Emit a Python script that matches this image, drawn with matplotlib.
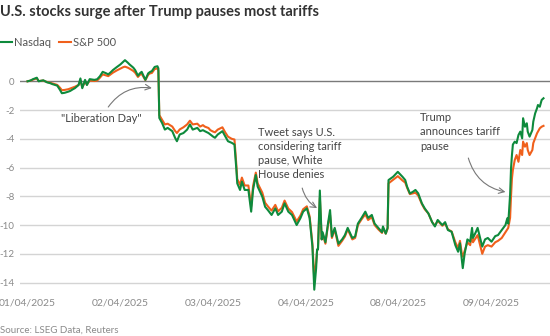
import matplotlib
matplotlib.use("Agg")
import matplotlib.pyplot as plt

# Intraday position, in trading sessions since the open of 01/04/2025
session = [
    0.00, 0.03, 0.06, 0.10, 0.12, 0.17, 0.21, 0.24, 0.27, 0.32,
    0.35, 0.37, 0.40, 0.44, 0.46, 0.49, 0.51, 0.55, 0.57, 0.59,
    0.62, 0.64, 0.67, 0.72, 0.75, 0.78, 0.81, 0.85, 0.87, 0.90,
    0.92, 0.96, 1.00, 1.03, 1.05, 1.08, 1.10, 1.14, 1.16, 1.19,
    1.21, 1.23, 1.27, 1.30, 1.32, 1.34, 1.37, 1.40, 1.41, 1.42,
    1.45, 1.48, 1.51, 1.56, 1.59, 1.61, 1.64, 1.68, 1.72, 1.75,
    1.78, 1.83, 1.86, 1.89, 1.91, 1.95, 1.97, 2.00, 2.02, 2.05,
    2.10, 2.13, 2.16, 2.20, 2.23, 2.25, 2.26, 2.29, 2.31, 2.34,
    2.38, 2.41, 2.43, 2.46, 2.48, 2.53, 2.56, 2.59, 2.63, 2.67,
    2.70, 2.74, 2.77, 2.81, 2.85, 2.90, 2.94, 2.97, 3.01, 3.04,
    3.07, 3.09, 3.11, 3.12, 3.13, 3.15, 3.17, 3.18, 3.21, 3.24,
    3.26, 3.28, 3.31, 3.35, 3.39, 3.42, 3.45, 3.50, 3.53, 3.56,
    3.60, 3.64, 3.67, 3.71, 3.74, 3.78, 3.82, 3.83, 3.86, 3.88,
    3.89, 3.94, 3.99, 4.04, 4.07, 4.09, 4.12, 4.15, 4.18, 4.21,
    4.25, 4.28, 4.32, 4.36, 4.39, 4.42, 4.47, 4.50, 4.53, 4.57,
    4.61, 4.64, 4.66, 4.68, 4.69, 4.71, 4.74, 4.77, 4.79, 4.80,
    4.83, 4.85, 4.90, 4.93, 4.96, 5.00, 5.04, 5.07, 5.11, 5.15,
    5.17, 5.18, 5.20, 5.21, 5.22, 5.23, 5.25, 5.27, 5.29, 5.31,
    5.33, 5.34, 5.36, 5.38, 5.39, 5.41, 5.44, 5.45, 5.47, 5.49,
    5.50, 5.52, 5.54, 5.56,
]

# Percentage change since 01/04/2025
nasdaq = [
    0.00, 0.05, 0.15, 0.25, 0.00, 0.07, -0.07, -0.12, -0.20, -0.30,
    -0.60, -0.83, -0.80, -0.72, -0.67, -0.55, -0.48, -0.26, 0.20, -0.48,
    0.10, -0.26, 0.15, 0.10, 0.14, 0.35, 0.66, 0.55, 0.48, 0.65,
    0.78, 0.98, 1.17, 1.35, 1.47, 1.30, 1.17, 0.95, 0.78, 0.39,
    0.55, 0.66, 0.10, 0.55, 0.65, 0.71, 1.00, 1.05, 0.90, -2.55,
    -2.90, -3.36, -3.24, -3.47, -3.93, -4.17, -3.70, -3.60, -3.36, -3.00,
    -3.36, -3.24, -3.47, -3.40, -3.47, -3.60, -3.70, -3.85, -3.93, -3.70,
    -3.47, -3.82, -4.17, -4.28, -4.40, -6.10, -7.10, -7.56, -6.98, -7.56,
    -7.56, -9.07, -7.56, -6.52, -7.33, -8.03, -8.73, -8.96, -9.30, -8.84,
    -9.30, -9.07, -8.49, -9.07, -9.30, -10.00, -9.53, -9.07, -8.84, -9.53,
    -11.50, -14.50, -13.00, -11.70, -11.70, -7.60, -11.00, -10.50, -11.20, -9.80,
    -8.96, -10.80, -10.20, -11.30, -11.00, -10.70, -10.20, -10.90, -10.80, -9.90,
    -9.50, -9.07, -9.50, -9.30, -9.90, -10.20, -10.50, -10.10, -10.60, -10.20,
    -6.87, -6.64, -6.30, -6.64, -6.87, -7.33, -7.80, -7.70, -7.56, -7.80,
    -8.50, -8.84, -9.20, -9.80, -10.10, -9.65, -10.00, -9.80, -10.35, -10.47,
    -11.40, -11.86, -11.27, -12.40, -13.00, -12.00, -11.00, -11.16, -10.20, -10.90,
    -10.50, -10.20, -11.50, -11.00, -10.90, -11.16, -10.77, -10.70, -10.35, -10.00,
    -9.53, -9.90, -7.90, -6.06, -5.13, -4.40, -4.20, -4.30, -3.74, -3.50,
    -3.97, -2.57, -3.16, -2.92, -3.50, -3.85, -3.39, -2.80, -2.23, -1.88,
    -1.65, -1.77, -1.30, -1.18,
]

sp500 = [
    0.00, 0.04, 0.12, 0.20, 0.02, 0.05, -0.05, -0.10, -0.15, -0.25,
    -0.45, -0.62, -0.60, -0.55, -0.50, -0.42, -0.38, -0.25, 0.05, -0.40,
    -0.05, -0.22, 0.05, 0.02, 0.05, 0.25, 0.48, 0.40, 0.36, 0.50,
    0.60, 0.75, 0.88, 0.98, 1.02, 0.95, 0.88, 0.72, 0.60, 0.30,
    0.45, 0.52, 0.08, 0.45, 0.55, 0.58, 0.85, 0.90, 0.75, -2.35,
    -2.67, -3.00, -2.95, -3.15, -3.45, -3.60, -3.35, -3.20, -3.00, -2.74,
    -3.00, -2.95, -3.15, -3.05, -3.15, -3.25, -3.40, -3.50, -3.55, -3.36,
    -3.20, -3.55, -3.85, -4.00, -4.05, -5.80, -6.80, -7.20, -6.70, -7.25,
    -7.25, -8.70, -7.30, -6.35, -7.10, -7.75, -8.45, -8.70, -9.00, -8.60,
    -9.05, -8.80, -8.30, -8.85, -9.10, -9.75, -9.35, -8.90, -8.70, -9.40,
    -11.30, -13.80, -12.60, -11.80, -11.60, -8.10, -11.00, -10.60, -11.30, -9.90,
    -9.30, -10.90, -10.30, -11.45, -11.10, -10.80, -10.30, -11.00, -10.90, -10.00,
    -9.60, -9.25, -9.65, -9.45, -10.00, -10.30, -10.55, -10.20, -10.60, -10.25,
    -7.10, -6.85, -6.60, -6.90, -7.05, -7.40, -7.85, -7.80, -7.75, -7.95,
    -8.55, -8.90, -9.20, -9.80, -10.05, -9.70, -10.05, -9.90, -10.30, -10.45,
    -11.20, -11.60, -11.10, -12.00, -12.20, -11.80, -11.20, -11.40, -10.60, -11.20,
    -10.90, -10.70, -12.00, -11.50, -11.40, -11.50, -11.20, -11.10, -10.90, -10.50,
    -10.30, -10.20, -9.50, -8.00, -6.75, -6.17, -5.48, -5.13, -5.60, -4.78,
    -5.13, -4.20, -4.55, -4.30, -4.78, -5.13, -4.78, -4.30, -3.97, -3.62,
    -3.50, -3.27, -3.16, -3.10,
]

day_ticks = [0, 1, 2, 3, 4, 5]
day_labels = ["01/04/2025", "02/04/2025", "03/04/2025",
              "04/04/2025", "08/04/2025", "09/04/2025"]
y_ticks = [0, -2, -4, -6, -8, -10, -12, -14]

GREEN = "#0e8a3c"
ORANGE = "#f0601c"
TEXT = "#333333"
MUTED = "#8a8a8a"
FONT = "Lato"

plt.rcParams["font.family"] = [FONT, "DejaVu Sans"]

fig = plt.figure(figsize=(5.5, 3.36), dpi=100)
ax = fig.add_axes([20 / 550, 1 - 292 / 336, 530 / 550, 237 / 336])

ax.set_xlim(-0.081, 5.63)
ax.set_ylim(-14.66, 1.83)

for yv in y_ticks:
    if yv == 0:
        ax.axhline(yv, color="#7a7a7a", lw=1.0, zorder=1)
    else:
        ax.axhline(yv, color="#d4d4d4", lw=1.0, zorder=1)

ax.plot(session, sp500, color=ORANGE, lw=1.5, zorder=3, solid_joinstyle="round")
ax.plot(session, nasdaq, color=GREEN, lw=1.5, zorder=4, solid_joinstyle="round")

for s in ax.spines.values():
    s.set_visible(False)
ax.set_yticks(y_ticks)
ax.set_yticklabels([str(v) for v in y_ticks])
ax.set_xticks(day_ticks)
ax.set_xticklabels(day_labels)
ax.tick_params(axis="both", length=0, labelcolor=MUTED)
ax.tick_params(axis="y", pad=4, labelsize=7)
ax.tick_params(axis="x", pad=5, labelsize=7.5)
for lab in ax.get_yticklabels():
    lab.set_horizontalalignment("right")

# Annotations
note_kw = dict(fontsize=8, color="#444444", fontfamily=FONT)
arrow_kw = dict(arrowstyle="->", color="#777777", lw=0.8, shrinkA=0, shrinkB=0)

ax.annotate("", xy=(1.34, -0.47), xytext=(0.87, -1.79),
            arrowprops=dict(connectionstyle="arc3,rad=-0.3", **arrow_kw))
ax.text(0.79, -2.62, "\"Liberation Day\"", ha="center", va="center", **note_kw)

ax.text(2.48, -3.18, "Tweet says U.S.\nconsidering tariff\npause, White\nHouse denies",
        ha="left", va="top", linespacing=1.35, **note_kw)
ax.annotate("", xy=(3.12, -8.82), xytext=(2.96, -7.43),
            arrowprops=dict(connectionstyle="arc3,rad=0.2", **arrow_kw))

ax.text(4.23, -2.15, "Trump\nannounces tariff\npause",
        ha="left", va="top", linespacing=1.35, **note_kw)
ax.annotate("", xy=(5.15, -7.70), xytext=(4.75, -5.34),
            arrowprops=dict(connectionstyle="arc3,rad=0.3", **arrow_kw))

# Title, legend and source
fig.text(0.0, 1 - 12 / 336, "U.S. stocks surge after Trump pauses most tariffs",
         ha="left", va="center", fontsize=10.5, fontweight="bold", color=TEXT)

fig.add_artist(plt.Line2D([0 / 550, 12 / 550], [1 - 42 / 336] * 2, color=GREEN, lw=1.5))
fig.text(14 / 550, 1 - 42 / 336, "Nasdaq", ha="left", va="center", fontsize=8, color="#555555")
fig.add_artist(plt.Line2D([59 / 550, 71 / 550], [1 - 42 / 336] * 2, color=ORANGE, lw=1.5))
fig.text(73 / 550, 1 - 42 / 336, "S&P 500", ha="left", va="center", fontsize=8, color="#555555")

fig.text(0.0, 1 - 330 / 336, "Source: LSEG Data, Reuters",
         ha="left", va="center", fontsize=7, color=MUTED)

fig.savefig("out.png", dpi=100)
